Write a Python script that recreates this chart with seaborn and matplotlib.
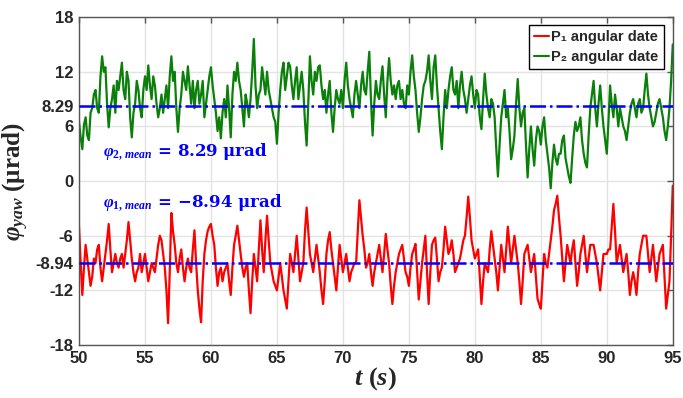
import numpy as np
import pandas as pd
import matplotlib
matplotlib.use("Agg")
import matplotlib.pyplot as plt
from matplotlib.lines import Line2D
import seaborn as sns

# sampling grid (s): main samples every 0.25 s, mid samples 0.125 s later
t_start, t_step = 50.0, 0.25

# P2 angular data (µrad), main samples (4 per second, t=50 ... 95)
p2_values = [
    6.5, 3.5, 7, 4.5,
    8, 10, 7.5, 13.7,
    12.5, 5.9, 9, 7.5,
    10, 13, 9, 11,
    4.8, 8.5, 10, 7,
    11.5, 12.7, 9, 10.5,
    7, 9.5, 9, 8,
    13.7, 12, 5.4, 9.5,
    11, 12.6, 8.5, 8,
    11, 9.5, 7, 10,
    12.5, 9, 5.5, 4.7,
    9, 10.5, 4.8, 12,
    13, 10, 6, 8.5,
    9, 15.6, 8, 10,
    11, 12, 9, 7,
    4.1, 10, 13, 11.5,
    12.6, 9, 12.5, 10.5,
    10, 3.9, 13.7, 9.5,
    11, 12.7, 9, 7.5,
    11, 5.4, 10, 8.5,
    8, 13, 9, 7,
    11, 8, 12, 9.5,
    14.2, 5, 11, 9,
    12.6, 7, 13.5, 9.5,
    9, 11, 10, 8,
    9.5, 13.8, 10, 5.4,
    9, 11, 13.8, 9,
    13.8, 8, 3.5, 10,
    10, 12.5, 9.5, 8,
    12, 9, 9, 11.5,
    8, 9.5, 5.7, 11.8,
    8, 9, 7, 0.5,
    7, 10, 8, 2.4,
    5, 11.2, 6, 8,
    0.4, 6, 1.7, 6,
    4, 7, 3, -0.8,
    4, 1.8, 3, 5,
    1.5, -0.2, 5, 5.5,
    7, 3, 1.5, 8,
    11, 6, 10.5, 6,
    3, 10.5, 7, 8,
    8, 6, 4.5, 7.5,
    9, 7, 9, 8,
    11.8, 8, 6, 7.5,
    9, 7, 4.5, 8,
    15,
]
# P2 mid samples
p2_mid = [
    4.8, 6.2, 5.0, 7.5,
    9.5, 8.0, 11.5, 12.0,
    8.5, 8.0, 10.5, 11.0,
    11.5, 10.0, 12.0, 7.0,
    7.5, 11.0, 8.0, 10.0,
    10.0, 10.5, 11.5, 8.5,
    8.0, 7.5, 10.5, 11.5,
    11.0, 8.0, 8.0, 12.0,
    10.0, 10.5, 11.0, 10.0,
    8.5, 11.0, 8.5, 11.5,
    10.5, 7.5, 7.0, 7.5,
    7.0, 8.0, 9.5, 11.0,
    11.0, 8.0, 9.5, 7.0,
    12.0, 10.5, 9.5, 12.5,
    9.5, 10.0, 8.0, 6.5,
    7.5, 12.0, 10.0, 13.0,
    10.5, 11.0, 9.0, 12.0,
    6.5, 8.5, 11.0, 12.0,
    12.5, 10.5, 10.0, 9.5,
    7.5, 8.0, 9.0, 10.0,
    11.0, 10.5, 8.0, 9.5,
    9.5, 10.5, 10.0, 12.0,
    9.0, 8.5, 9.5, 11.0,
    9.5, 11.0, 11.0, 10.5,
    10.5, 9.0, 8.5, 10.5,
    12.0, 11.5, 7.5, 7.0,
    10.5, 12.0, 11.0, 12.5,
    10.5, 5.5, 7.0, 8.0,
    11.5, 10.0, 11.0, 10.5,
    10.0, 7.5, 10.5, 9.5,
    10.0, 7.0, 9.0, 9.5,
    7.0, 8.5, 3.5, 4.0,
    8.5, 7.0, 5.5, 3.5,
    8.5, 8.0, 7.5, 4.0,
    3.5, 3.5, 4.5, 5.5,
    6.0, 4.5, 1.5, 2.0,
    2.5, 3.0, 4.5, 2.5,
    0.5, 2.5, 6.5, 6.0,
    4.5, 2.0, 5.0, 9.5,
    8.0, 8.5, 8.0, 4.5,
    6.5, 8.5, 9.5, 6.0,
    7.0, 5.5, 6.0, 8.5,
    8.0, 8.5, 7.5, 10.0,
    9.5, 7.0, 6.5, 8.5,
    8.0, 5.5, 6.0, 11.0,
]

# P1 angular data (µrad), main samples
p1_values = [
    -5, -12.5, -7, -10,
    -10.5, -9, -7, -11,
    -8, -4.7, -10, -8,
    -9.5, -8, -8, -4.5,
    -8.5, -11, -9.5, -10,
    -8, -11, -9, -10,
    -7, -6.5, -9.5, -15.6,
    -3.5, -7, -10, -7.5,
    -11, -8.5, -10, -5.4,
    -12, -15.5, -8, -5.5,
    -4.7, -7, -11.5, -9.5,
    -10, -9, -12.5, -7,
    -4.9, -8, -10.5, -9,
    -14.5, -8, -11, -4.3,
    -10, -3.8, -9, -11,
    -12, -9, -12, -14,
    -8, -10, -6, -11,
    -9, -2.9, -8, -10,
    -7, -10, -13.5, -8,
    -5.6, -9, -12, -7,
    -10, -8, -11, -9.5,
    -9, -2.1, -6, -9.5,
    -8, -11.5, -9, -7,
    -10, -5.8, -9, -13.5,
    -10, -8, -7, -10,
    -11.5, -8, -6.9, -13,
    -9, -6, -13.5, -7,
    -6.2, -11, -9.5, -5,
    -8, -6.5, -10, -9,
    -7.5, -6, -1.7, -6.5,
    -8.5, -7.5, -13.5, -9,
    -10, -5.5, -8.5, -12,
    -7, -10, -5, -9,
    -6, -9, -13.5, -8,
    -7, -10, -8, -12.9,
    -14, -8, -9.5, -6.5,
    -3.2, -1.6, -6, -11,
    -7, -9, -6.5, -11.5,
    -8, -6, -10, -7,
    -7, -9, -12, -8,
    -8, -7.5, -2.5, -9,
    -7, -10, -8, -12.5,
    -10, -12.5, -8, -6,
    -6, -10, -7, -11,
    -8, -7, -14, -11,
    -0.5,
]
# P1 mid samples
p1_mid = [
    -9, -9.5, -8.5, -11.5,
    -8.5, -7.5, -9.5, -9.5,
    -6.5, -7.5, -9, -9,
    -8.5, -9.5, -6.5, -6.5,
    -10, -10, -8, -9,
    -9.5, -10, -9.5, -8.5,
    -6, -8, -12, -10,
    -5.5, -9, -8.5, -9.5,
    -9.5, -9.5, -7.5, -9,
    -14, -11, -6.5, -5,
    -6, -9.5, -10, -11,
    -9.5, -11, -9.5, -6,
    -6.5, -9.5, -9.5, -12,
    -11, -9.5, -7.5, -7.5,
    -6.5, -6.5, -10, -11.5,
    -10.5, -10.5, -13, -11,
    -9, -8, -8.5, -10,
    -5.5, -5.5, -9, -8.5,
    -8.5, -12, -11, -6.5,
    -7.5, -10.5, -9.5, -8.5,
    -9, -9.5, -10, -9,
    -5.5, -4, -7.5, -9,
    -10, -10, -8, -8.5,
    -8, -7.5, -11.5, -11.5,
    -9, -7.5, -8.5, -10.5,
    -9.5, -7.5, -10, -11,
    -7.5, -10, -10, -6.5,
    -8.5, -10, -7.5, -6.5,
    -7.5, -8, -9.5, -8.5,
    -6.5, -4, -4, -7.5,
    -8, -10.5, -11, -9.5,
    -7.5, -7, -10, -9.5,
    -8.5, -7.5, -7, -7.5,
    -7.5, -11, -11, -7.5,
    -8.5, -9, -10.5, -13.5,
    -11, -9, -8, -5,
    -2.5, -4, -8.5, -9,
    -8, -7.5, -9, -10,
    -7, -8, -8.5, -7,
    -8, -10.5, -10, -8,
    -7.5, -5, -5.5, -8,
    -8.5, -9, -10, -11,
    -11, -10, -7, -6,
    -8, -8.5, -9, -9.5,
    -7.5, -10.5, -12.5, -6,
]

p1_mean = -8.94
p2_mean = 8.29
x_ticks = [50, 55, 60, 65, 70, 75, 80, 85, 90, 95]
y_ticks = [-18, -12, -8.94, -6, 0, 6, 8.29, 12, 18]
y_tick_labels = ["-18", "-12", "-8.94", "-6", "0", "6", "8.29", "12", "18"]
legend_labels = ["P\u2081 angular date", "P\u2082 angular date"]


def merge(main, mid):
    t_main = t_start + t_step * np.arange(len(main))
    t_mid = t_start + t_step * np.arange(len(mid)) + t_step / 2
    tt = np.concatenate([t_main, t_mid])
    vv = np.concatenate([np.asarray(main, float), np.asarray(mid, float)])
    order = np.argsort(tt)
    return tt[order], vv[order]


t1, v1 = merge(p1_values, p1_mid)
t2, v2 = merge(p2_values, p2_mid)
df = pd.DataFrame({
    "t": np.concatenate([t1, t2]),
    "v": np.concatenate([v1, v2]),
    "series": [legend_labels[0]] * len(t1) + [legend_labels[1]] * len(t2),
})

sns.set_style("white")
plt.rcParams["mathtext.fontset"] = "custom"
plt.rcParams["mathtext.rm"] = "Liberation Serif:bold"
plt.rcParams["mathtext.it"] = "Liberation Serif:italic:bold"
plt.rcParams["mathtext.bf"] = "Liberation Serif:bold"

fig = plt.figure(figsize=(6.83, 3.98), dpi=100)
ax = fig.add_axes([0.1157, 0.133, 0.8693, 0.824])

red, green, blue = "#ff0000", "#0a800a", "#0000ff"
sns.lineplot(data=df, x="t", y="v", hue="series",
             palette={legend_labels[0]: red, legend_labels[1]: green},
             linewidth=1.6, ax=ax, legend=False, sort=True)

ax.axhline(p2_mean, color=blue, linestyle="-.", linewidth=1.8, zorder=3)
ax.axhline(p1_mean, color=blue, linestyle="-.", linewidth=1.8, zorder=3)

ax.set_xlim(50, 95)
ax.set_ylim(-18, 18)
ax.set_xticks(x_ticks)
ax.set_xticklabels([str(v) for v in x_ticks])
ax.set_yticks(y_ticks)
ax.set_yticklabels(y_tick_labels)

for lab in ax.get_xticklabels() + ax.get_yticklabels():
    lab.set_fontfamily(["Liberation Sans", "DejaVu Sans"])
    lab.set_fontweight("bold")
    lab.set_fontsize(12)
    lab.set_color("#262626")

ax.tick_params(axis="both", direction="in", length=4, width=1, color="#555555",
               top=True, right=True, pad=4)
ax.grid(True, color="#e3e3e3", linewidth=1.0)
for s in ax.spines.values():
    s.set_color("#555555")
    s.set_linewidth(1.0)

ax.set_xlabel(r"$t\ (s)$", fontsize=19, labelpad=0)
ax.set_ylabel(r"$\varphi_{yaw}$" + " (\u03bcrad)", fontsize=18,
              fontfamily="Liberation Serif", fontweight="bold", labelpad=3)

ann_font = dict(fontsize=12, fontfamily="DejaVu Serif", fontweight="bold", va="center")
ax.text(51.85, 3.3, r"$\varphi_{2,\,mean}$" + " = 8.29 \u03bcrad", color=blue, **ann_font)
ax.text(51.85, -2.3, r"$\varphi_{1,\,mean}$" + " = \u22128.94 \u03bcrad", color=blue, **ann_font)

handles = [Line2D([], [], color=red, lw=1.5), Line2D([], [], color=green, lw=1.5)]
leg = ax.legend(handles, legend_labels, loc="upper right", bbox_to_anchor=(0.985, 0.975),
                prop={"family": ["Liberation Sans", "DejaVu Sans"], "weight": "bold", "size": 10.5},
                frameon=True, fancybox=False, framealpha=1, edgecolor="black",
                handlelength=1.0, handletextpad=0.2, borderpad=0.35, labelspacing=0.4,
                borderaxespad=0)
leg.get_frame().set_linewidth(1.0)

fig.savefig("out.png", dpi=100)
